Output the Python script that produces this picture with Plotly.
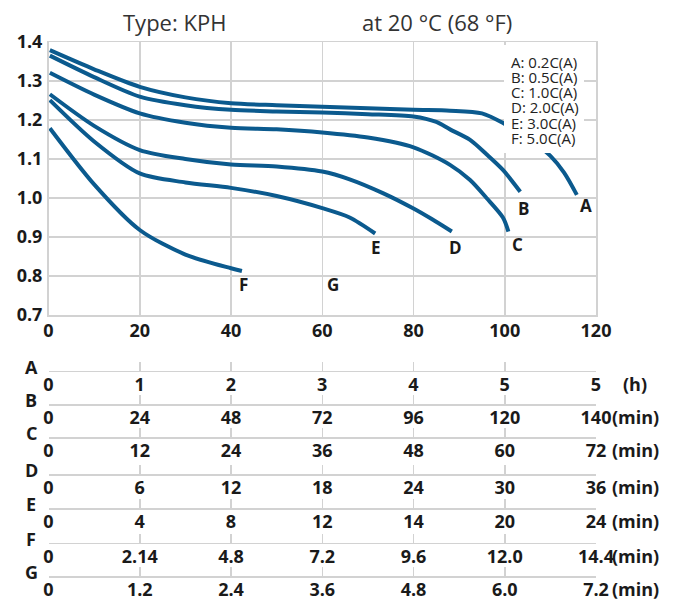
import plotly.graph_objects as go

# ---------------- data ----------------
time_A = [0.3, 10, 20, 30, 40, 50, 60, 70, 80, 88, 95, 100, 105, 110, 113, 115.8]
volt_A = [1.379, 1.330, 1.285, 1.258, 1.243, 1.238, 1.234, 1.230, 1.226, 1.224, 1.217, 1.190, 1.155, 1.108, 1.065, 1.008]

time_B = [0.3, 10, 20, 30, 40, 50, 60, 70, 80, 85, 88, 92.4, 96, 99.6, 103.4]
volt_B = [1.365, 1.310, 1.260, 1.238, 1.226, 1.222, 1.219, 1.215, 1.209, 1.195, 1.176, 1.149, 1.112, 1.072, 1.016]

time_C = [0.3, 10, 20, 30, 40, 50, 60, 70, 80, 88, 92.4, 96, 99.6, 100.8]
volt_C = [1.321, 1.265, 1.217, 1.193, 1.180, 1.176, 1.168, 1.155, 1.130, 1.085, 1.046, 1.000, 0.950, 0.914]

time_D = [0.3, 10, 20, 30, 40, 50, 60, 66, 73.4, 80, 84, 88.4]
volt_D = [1.266, 1.185, 1.123, 1.100, 1.086, 1.081, 1.068, 1.048, 1.012, 0.973, 0.946, 0.914]

time_E = [0.3, 10, 20, 30, 40, 50, 60, 66, 71.6]
volt_E = [1.251, 1.145, 1.063, 1.040, 1.026, 1.005, 0.974, 0.950, 0.909]

time_F = [0.3, 10, 20, 30, 40, 42.4]
volt_F = [1.179, 1.035, 0.918, 0.855, 0.820, 0.813]

curves = [("A", time_A, volt_A), ("B", time_B, volt_B), ("C", time_C, volt_C),
          ("D", time_D, volt_D), ("E", time_E, volt_E), ("F", time_F, volt_F)]

curve_label_names = ["A", "B", "C", "D", "E", "F", "G"]
curve_label_x = [117.8, 104.0, 102.7, 89.1, 71.8, 42.7, 62.4]
curve_label_y = [0.982, 0.974, 0.882, 0.874, 0.874, 0.777, 0.777]

legend_lines = ["A: 0.2C(A)", "B: 0.5C(A)", "C: 1.0C(A)", "D: 2.0C(A)", "E: 3.0C(A)", "F: 5.0C(A)"]

x_ticks = [0, 20, 40, 60, 80, 100, 120]
y_ticks = [0.7, 0.8, 0.9, 1.0, 1.1, 1.2, 1.3, 1.4]

scale_names = ["A", "B", "C", "D", "E", "F", "G"]
scale_A = ["0", "1", "2", "3", "4", "5", "5"]
scale_B = ["0", "24", "48", "72", "96", "120", "140"]
scale_C = ["0", "12", "24", "36", "48", "60", "72"]
scale_D = ["0", "6", "12", "18", "24", "30", "36"]
scale_E = ["0", "4", "8", "12", "14", "20", "24"]
scale_F = ["0", "2.14", "4.8", "7.2", "9.6", "12.0", "14.4"]
scale_G = ["0", "1.2", "2.4", "3.6", "4.8", "6.0", "7.2"]
scale_labels = [scale_A, scale_B, scale_C, scale_D, scale_E, scale_F, scale_G]
scale_units = ["(h)", "(min)", "(min)", "(min)", "(min)", "(min)", "(min)"]

# ---------------- layout helpers ----------------
W, H = 675, 601
def fx(p):
    return p / W
def fy(p):
    return 1 - p / H

FONT = "Open Sans"
LINE_COLOR = "#0b5a8e"
GRID = "#d2d2d2"
TXT = "#1a1a1a"
X_DOM = [fx(48.5), fx(596)]

fig = go.Figure()
for name, t, v in curves:
    fig.add_trace(go.Scatter(x=t, y=v, mode="lines", name=name,
                             line=dict(color=LINE_COLOR, width=4, shape="spline", smoothing=0.8),
                             showlegend=False, hoverinfo="skip"))

layout = dict(
    width=W, height=H, autosize=False,
    margin=dict(l=0, r=0, t=0, b=0, pad=0, autoexpand=False),
    paper_bgcolor="white", plot_bgcolor="white", showlegend=False,
    font=dict(family=FONT, color=TXT),
    xaxis=dict(domain=X_DOM, range=[0, 120], tickvals=x_ticks, showgrid=True, gridcolor=GRID,
               gridwidth=1.5, showline=True, linecolor=GRID, linewidth=1.5, mirror=True,
               zeroline=False, ticks="", ticklen=0, ticklabelstandoff=-1, automargin=False,
               tickfont=dict(family=FONT, size=18, weight="bold", color=TXT), anchor="y"),
    yaxis=dict(domain=[fy(315), fy(42)], range=[0.7, 1.4], tickvals=y_ticks, tickformat=".1f",
               showgrid=True, gridcolor=GRID, gridwidth=1.5, showline=True, linecolor=GRID,
               linewidth=1.5, mirror=True, zeroline=False, ticks="", ticklen=0,
               ticklabelstandoff=1, automargin=False,
               tickfont=dict(family=FONT, size=18, weight="bold", color=TXT), anchor="x"),
)

row_line_py = [370.7, 404, 437.3, 474, 508.3, 542.7, 576]
annotations = []
for i, (nm, labels, unit, py) in enumerate(zip(scale_names, scale_labels, scale_units, row_line_py)):
    k = i + 2
    fig.add_trace(go.Scatter(x=[], y=[], xaxis=f"x{k}", yaxis=f"y{k}", showlegend=False))
    layout[f"xaxis{k}"] = dict(domain=X_DOM, range=[0, 120], tickvals=x_ticks, ticktext=labels,
                               showgrid=False, zeroline=False, showline=True, linecolor=GRID,
                               linewidth=1.5, ticks="inside", ticklen=9, tickwidth=1.5,
                               tickcolor=GRID, ticklabelstandoff=-3, anchor=f"y{k}",
                               automargin=False,
                               tickfont=dict(family=FONT, size=18, weight="bold", color=TXT))
    layout[f"yaxis{k}"] = dict(domain=[fy(py), fy(py) + 0.02], range=[0, 1], visible=False,
                               anchor=f"x{k}", automargin=False)
    annotations.append(dict(xref="paper", yref="paper", x=fx(31), y=fy(py - 4), text=nm,
                            showarrow=False, font=dict(family=FONT, size=18, weight="bold", color=TXT),
                            xanchor="center", yanchor="middle"))
    annotations.append(dict(xref="paper", yref="paper", x=fx(635), y=fy(py + 13), text=unit,
                            showarrow=False, font=dict(family=FONT, size=18, weight="bold", color=TXT),
                            xanchor="center", yanchor="middle"))

# titles
annotations.append(dict(xref="paper", yref="paper", x=fx(174), y=fy(22), text="Type: KPH",
                        showarrow=False, font=dict(family=FONT, size=22, color="#333333"),
                        xanchor="center", yanchor="middle"))
annotations.append(dict(xref="paper", yref="paper", x=fx(437), y=fy(22), text="at 20 °C (68 °F)",
                        showarrow=False, font=dict(family=FONT, size=22, color="#333333"),
                        xanchor="center", yanchor="middle"))

# curve labels
for nm, lx, ly in zip(curve_label_names, curve_label_x, curve_label_y):
    annotations.append(dict(xref="x", yref="y", x=lx, y=ly, text=nm, showarrow=False,
                            font=dict(family=FONT, size=17, weight="bold", color=TXT),
                            xanchor="center", yanchor="middle"))

# legend box text
for j, txt in enumerate(legend_lines):
    annotations.append(dict(xref="paper", yref="paper", x=fx(510), y=fy(61.5 + j * 15.3), text=txt,
                            showarrow=False, font=dict(family=FONT, size=15, color="#222222"),
                            xanchor="left", yanchor="middle", borderpad=0))

layout["annotations"] = annotations
layout["shapes"] = [dict(type="rect", xref="paper", yref="paper", x0=fx(504), x1=fx(584),
                         y0=fy(153), y1=fy(45), fillcolor="white", line=dict(width=0), layer="above")]

fig.update_layout(**layout)
fig.write_html("out.html", config={"displayModeBar": False, "staticPlot": True},
               post_script="document.body.style.margin='0';document.body.style.padding='0';")
